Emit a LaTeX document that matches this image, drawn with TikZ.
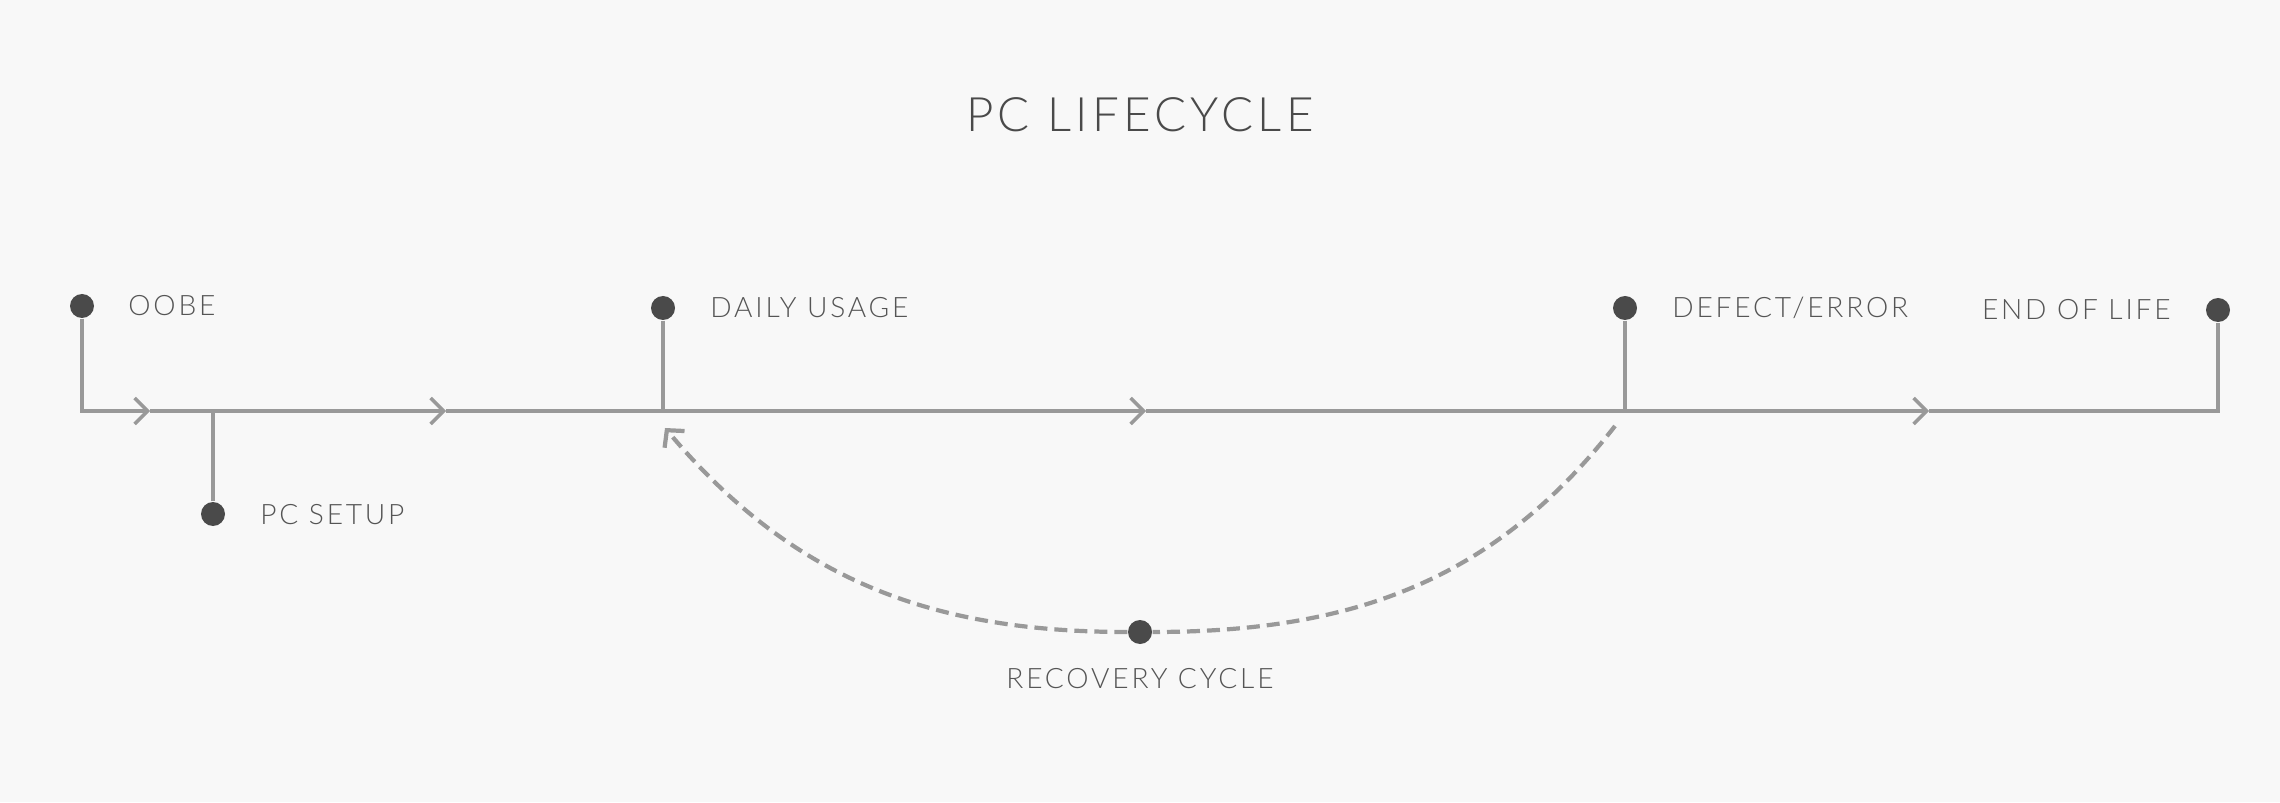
\documentclass[tikz,border=0pt]{standalone}
\usepackage{fontspec}
\setmainfont{Lato Light}
\newfontfamily\titlefont{Lato Light}[LetterSpace=9]
\newfontfamily\labelfont{Lato Light}[LetterSpace=10]
\usetikzlibrary{positioning,arrows.meta}
\definecolor{bggray}{HTML}{F8F8F8}
\definecolor{linegray}{HTML}{999999}
\definecolor{dotgray}{HTML}{4A4A4A}
\definecolor{textgray}{HTML}{555555}
\tikzset{
  stagedot/.style={circle,fill=dotgray,inner sep=0pt,minimum size=2.4mm},
  stage/.style={inner sep=0pt,text=textgray,font={\labelfont\fontsize{8}{9.6}\selectfont},text height=2mm,text depth=0pt},
  flow/.style={draw=linegray,line width=1pt},
  chevron/.style={flow,-{Straight Barb[length=1.3mm,width=2.6mm]}},
  recovery/.style={draw=linegray,line width=1.2pt,dash pattern=on 1.3mm off 0.7mm,-{Straight Barb[length=1.2mm,width=2.6mm]}}
}

\begin{document}
\begin{tikzpicture}
    \fill[bggray] (0,0) rectangle (22.8,8.02);
    \useasboundingbox (0,0) rectangle (22.8,8.02);
    \node[anchor=base,text=dotgray,font={\titlefont\fontsize{13.5}{16}\selectfont}] (title) at (11.40,6.70) {PC LIFECYCLE};
    % stages
    \node[stagedot] (oobe) at (0.82,4.96) {};
    \node[stagedot] (setup) at (2.13,2.88) {};
    \node[stagedot] (daily) at (6.63,4.94) {};
    \node[stagedot] (defect) at (16.25,4.94) {};
    \node[stagedot] (eol) at (22.18,4.92) {};
    \node[stagedot] (rec) at (11.40,1.70) {};
    \node[stage,right=3.3mm of oobe] (oobel) {OOBE};
    \node[stage,right=3.4mm of setup] (setupl) {PC SETUP};
    \node[stage,right=3.4mm of daily] (dailyl) {DAILY USAGE};
    \node[stage,right=3.4mm of defect] (defectl) {DEFECT/ERROR};
    \node[stage,left=3.4mm of eol] (eoll) {END OF LIFE};
    \node[stage,below=2.3mm of rec] (recl) {RECOVERY CYCLE};
    % main line
    \coordinate (m1) at (1.50,3.91);
    \coordinate (m2) at (4.46,3.91);
    \coordinate (m3) at (11.46,3.91);
    \coordinate (m4) at (19.29,3.91);
    \draw[chevron] (oobe) |- (m1);
    \draw[chevron] (m1) -- (m2);
    \draw[chevron] (m2) -- (m3);
    \draw[chevron] (m3) -- (m4);
    \draw[flow] (m4) -| (eol);
    \draw[flow] (setup) -- (setup |- m1);
    \draw[flow] (daily) -- (daily |- m1);
    \draw[flow] (defect) -- (defect |- m1);
    % recovery cycle
    \coordinate (rs) at (16.15,3.76);
    \coordinate (re) at (6.65,3.74);
    \draw[recovery] (rs) to[out=-128,in=0] (rec) to[out=180,in=-50] (re);
\end{tikzpicture}
\end{document}
